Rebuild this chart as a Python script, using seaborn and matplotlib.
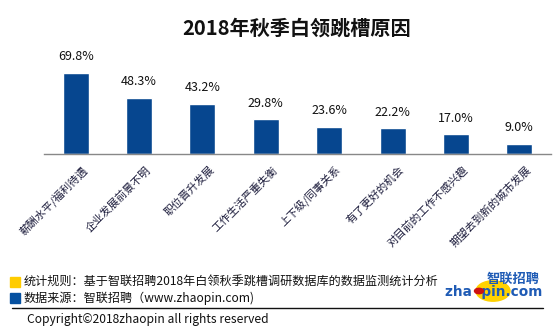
import matplotlib
matplotlib.use("Agg")
import matplotlib.pyplot as plt
import matplotlib.transforms as mtransforms
from matplotlib.patches import Rectangle, Circle
import seaborn as sns
import pandas as pd

categories = ["薪酬水平/福利待遇", "企业发展前景不明", "职位晋升发展", "工作生活严重失衡",
              "上下级/同事关系", "有了更好的机会", "对目前的工作不感兴趣", "期望去到新的城市发展"]
values = [69.8, 48.3, 43.2, 29.8, 23.6, 22.2, 17.0, 9.0]
value_labels = ["69.8%", "48.3%", "43.2%", "29.8%", "23.6%", "22.2%", "17.0%", "9.0%"]
title = "2018年秋季白领跳槽原因"
note1 = "统计规则：基于智联招聘2018年白领秋季跳槽调研数据库的数据监测统计分析"
note2 = "数据来源：智联招聘（www.zhaopin.com)"
copyright_text = "Copyright©2018zhaopin all rights reserved"

sns.set_theme(style="white")
plt.rcParams['font.family'] = ['Noto Sans CJK SC', 'DejaVu Sans']

W, H = 553, 332
fig = plt.figure(figsize=(W / 100, H / 100), dpi=100)
fig.patch.set_facecolor("white")

ax = fig.add_axes([44 / W, 1 - 154 / H, 507 / W, 84 * 1.16 / H])
df = pd.DataFrame({"cat": categories, "val": values})
sns.barplot(data=df, x="cat", y="val", color="#06468F", width=0.41, ax=ax,
            saturation=1, order=categories)
ax.set_xlim(-0.5, len(categories) - 0.5)
ax.set_ylim(0, 84)
ax.set_xlabel("")
ax.set_ylabel("")
ax.set_yticks([])
for s in ["top", "left", "right"]:
    ax.spines[s].set_visible(False)
ax.spines["bottom"].set_color("#888888")
ax.spines["bottom"].set_linewidth(1.0)

ax.set_xticks(range(len(categories)))
ax.set_xticks([i - 0.5 for i in range(len(categories) + 1)], minor=True)
ax.tick_params(axis="x", which="major", length=0, pad=0)
ax.tick_params(axis="x", which="minor", length=4, color="#888888", width=1.0, direction="out")
ax.set_xticklabels(categories, rotation=45, ha="right", va="center",
                   rotation_mode="anchor", fontsize=7.8, color="#1a1a3a")
offset = mtransforms.ScaledTranslation(10 / 100, -14 / 100, fig.dpi_scale_trans)
for lbl in ax.get_xticklabels():
    lbl.set_transform(lbl.get_transform() + offset)

for i, (v, t) in enumerate(zip(values, value_labels)):
    ax.annotate(t, (i, v), xytext=(0, 7), textcoords="offset points",
                ha="center", va="bottom", fontsize=9, color="#111111")

fig.text(297 / W, 1 - 28 / H, title, ha="center", va="center",
         fontsize=14.5, fontweight="bold", color="#111111")

# footer
fig.patches.append(Rectangle((10 / W, 1 - 287 / H), 10 / W, 10 / H,
                             transform=fig.transFigure, color="#FFCC00"))
fig.patches.append(Rectangle((10 / W, 1 - 303 / H), 10 / W, 10 / H,
                             transform=fig.transFigure, color="#0550A0"))
fig.text(24 / W, 1 - 281 / H, note1, ha="left", va="center", fontsize=8.7, color="#111111")
fig.text(24 / W, 1 - 298 / H, note2, ha="left", va="center", fontsize=8.7, color="#111111")
fig.add_artist(plt.Line2D([12 / W, 543 / W], [1 - 308 / H, 1 - 308 / H],
                          transform=fig.transFigure, color="#111111", linewidth=1.0))
fig.text(27 / W, 1 - 319 / H, copyright_text, ha="left", va="center", fontsize=8.7,
         color="#111111")

# logo
fig.patches.append(Circle((493 / W, 1 - 291 / H), 17 / W, transform=fig.transFigure,
                          color="#FFD200", zorder=1))
fig.text(513 / W, 1 - 279 / H, "智联招聘", ha="center", va="center", fontsize=9.5,
         fontweight="bold", style="italic", color="#1F5BB5", zorder=3)
fig.text(494 / W, 1 - 292 / H, "zha  pin.com", ha="center", va="center", fontsize=9.8,
         fontweight="bold", family=["DejaVu Sans"], color="#1F5BB5", zorder=3)
fig.patches.append(Circle((479 / W, 1 - 291 / H), 4.5 / W, transform=fig.transFigure,
                          color="#CC1111", zorder=4))

fig.savefig("out.png", dpi=100, facecolor="white")
